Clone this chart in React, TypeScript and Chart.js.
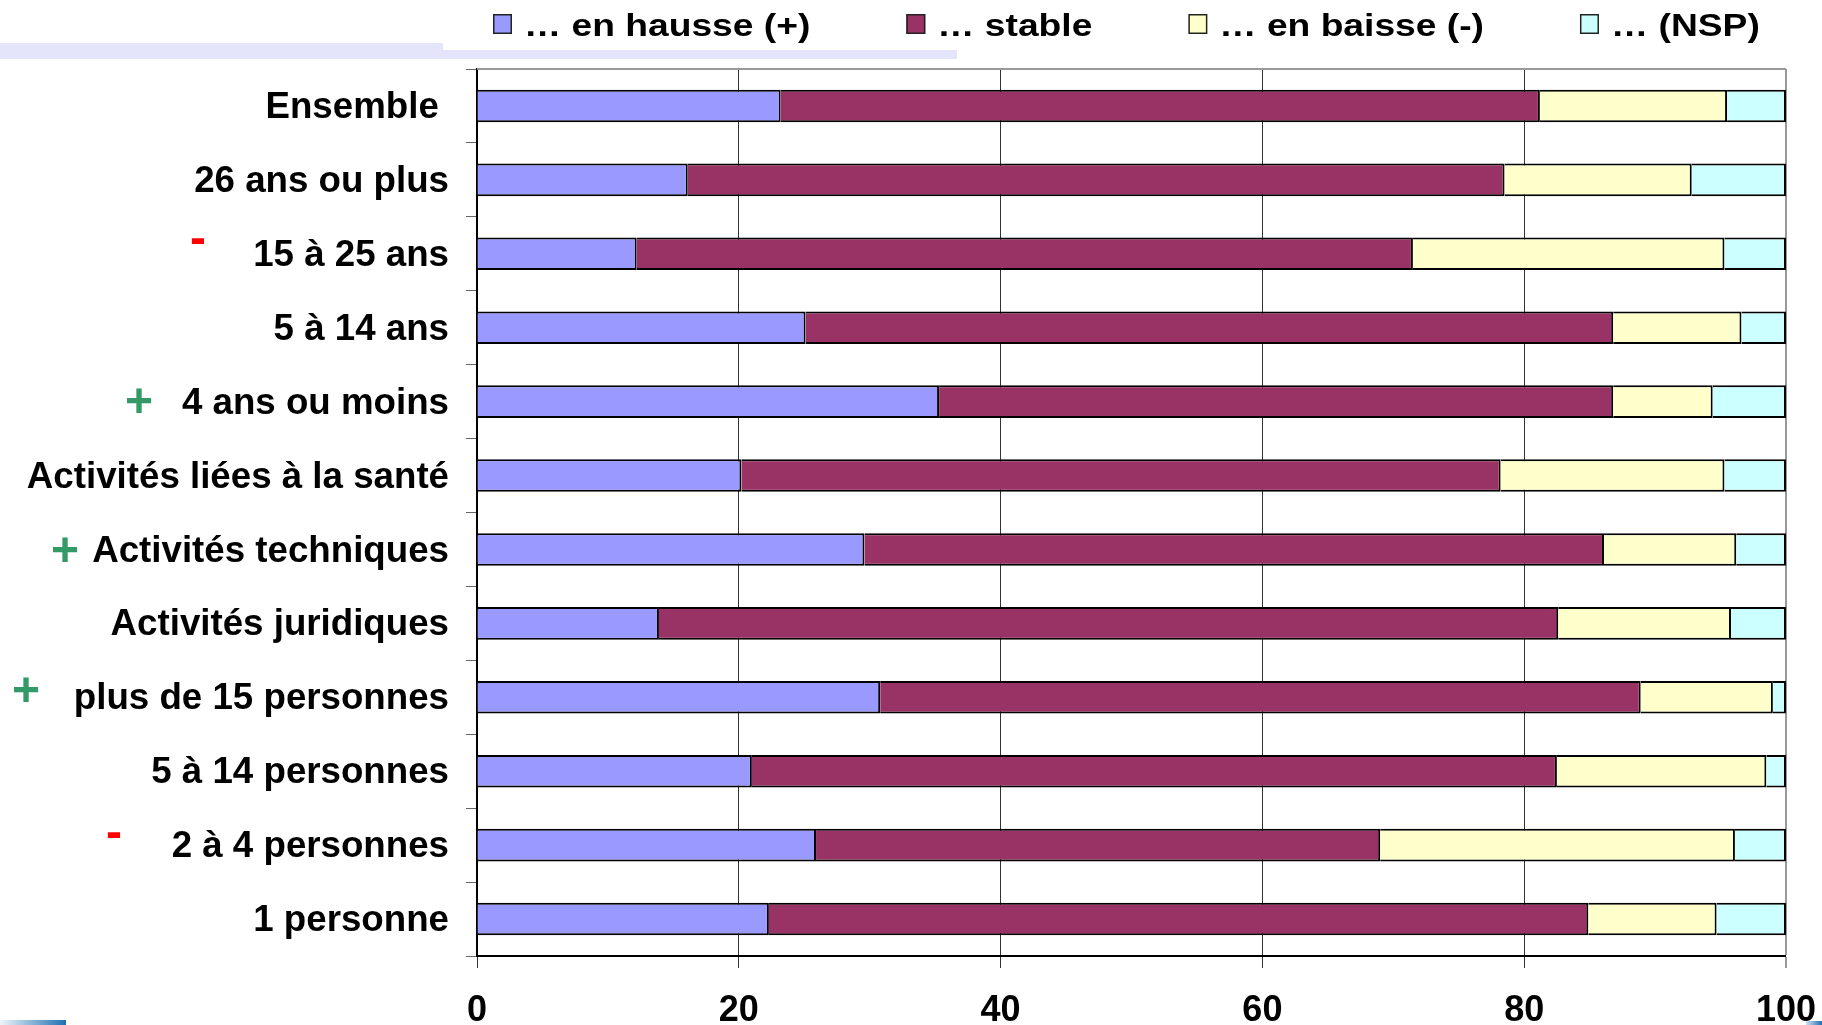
import { useEffect, useRef } from "react";
import { Chart, registerables } from "chart.js";

Chart.register(...registerables);

const FONT = '"Liberation Sans", Arial, Helvetica, sans-serif';

// ---------- data ----------
const categories = [
  "Ensemble ",
  "26 ans ou plus",
  "15 à 25 ans",
  "5 à 14 ans",
  "4 ans ou moins",
  "Activités liées à la santé",
  "Activités techniques",
  "Activités juridiques",
  "plus de 15 personnes",
  "5 à 14 personnes",
  "2 à 4 personnes",
  "1 personne",
];
const seriesNames = ["… en hausse (+)", "… stable", "… en baisse (-)", "… (NSP)"];
const enHausse = [23.2, 16.1, 12.2, 25.1, 35.3, 20.2, 29.6, 13.9, 30.8, 21.0, 25.9, 22.3];
const stable = [58.0, 62.4, 59.3, 61.7, 51.5, 58.0, 56.5, 68.7, 58.1, 61.5, 43.1, 62.6];
const enBaisse = [14.3, 14.3, 23.8, 9.8, 7.6, 17.1, 10.1, 13.2, 10.1, 16.0, 27.1, 9.8];
const nsp = [4.5, 7.2, 4.7, 3.4, 5.6, 4.7, 3.8, 4.2, 1.0, 1.5, 3.9, 5.3];
const markers = ["", "", "-", "", "+", "", "+", "", "+", "", "-", ""];
const xTicks = [0, 20, 40, 60, 80, 100];

// ---------- styles ----------
const seriesColors = ["#9999ff", "#993366", "#ffffcc", "#ccffff"];
// marker position: [center x, vertical offset from category center]
const markerPlacement: Record<number, [number, number]> = {
  2: [198, -12],
  4: [139, -2],
  6: [65, 0],
  8: [26, -8],
  10: [114, -9],
};

const legendPlugin = {
  id: "topLegend",
  afterDraw(chart: any) {
    const ctx = chart.ctx as CanvasRenderingContext2D;
    ctx.save();
    ctx.font = `bold 31px ${FONT}`;
    const sx = 1.2;
    let x = 493;
    chart.data.datasets.forEach((ds: any) => {
      ctx.fillStyle = ds.backgroundColor;
      ctx.fillRect(x, 14, 19, 20);
      ctx.strokeStyle = "#222";
      ctx.lineWidth = 1.5;
      ctx.strokeRect(x + 0.75, 14.75, 17.5, 18.5);
      const w = ctx.measureText(ds.label).width * sx;
      ctx.save();
      ctx.translate(x + 31, 36);
      ctx.scale(sx, 1);
      ctx.fillStyle = "#000";
      ctx.textBaseline = "alphabetic";
      ctx.textAlign = "left";
      ctx.fillText(ds.label, 0, 0);
      ctx.restore();
      x += 31 + w + 96;
    });
    ctx.restore();
  },
};

const framePlugin = {
  id: "frame",
  beforeDatasetsDraw(chart: any) {
    const { ctx, chartArea } = chart;
    ctx.save();
    ctx.strokeStyle = "#999";
    ctx.lineWidth = 2;
    ctx.beginPath();
    ctx.moveTo(chartArea.left, chartArea.top);
    ctx.lineTo(chartArea.right, chartArea.top);
    ctx.stroke();
    ctx.restore();
  },
};

const markerPlugin = {
  id: "markers",
  afterDraw(chart: any) {
    const ctx = chart.ctx as CanvasRenderingContext2D;
    const yScale = chart.scales.y;
    ctx.save();
    ctx.font = `bold 48px ${FONT}`;
    ctx.textAlign = "center";
    ctx.textBaseline = "alphabetic";
    markers.forEach((m, i) => {
      if (!m) return;
      const place = markerPlacement[i];
      if (!place) return;
      const cy = yScale.getPixelForValue(i) + place[1];
      if (m === "+") {
        ctx.fillStyle = "#339966";
        ctx.fillText("+", place[0], cy + 17);
      } else {
        ctx.fillStyle = "#ff0000";
        ctx.fillText("-", place[0], cy + 12);
      }
    });
    ctx.restore();
  },
};

export default function App() {
  const canvasRef = useRef<HTMLCanvasElement | null>(null);

  useEffect(() => {
    if (!canvasRef.current) return;
    const series = [enHausse, stable, enBaisse, nsp];
    const chart = new Chart(canvasRef.current, {
      type: "bar",
      data: {
        labels: categories,
        datasets: series.map((values, k) => ({
          label: seriesNames[k],
          data: values,
          backgroundColor: seriesColors[k],
          borderColor: "#000",
          borderWidth: 2,
          barPercentage: 0.44,
          categoryPercentage: 1,
        })),
      },
      options: {
        indexAxis: "y",
        animation: false,
        responsive: true,
        maintainAspectRatio: false,
        layout: { padding: { top: 69, right: 0, left: 0, bottom: 0 } },
        plugins: {
          legend: { display: false },
          tooltip: { enabled: false },
        },
        scales: {
          x: {
            stacked: true,
            min: xTicks[0],
            max: xTicks[xTicks.length - 1],
            afterFit(scale: any) {
              scale.height = 69;
            },
            ticks: {
              stepSize: xTicks[1] - xTicks[0],
              color: "#000",
              padding: 21,
              font: { family: FONT, size: 36, weight: "bold" },
            },
            grid: {
              color: (c: any) => (c.tick && c.tick.value === 100 ? "#999" : "#333"),
              lineWidth: (c: any) => (c.tick && c.tick.value === 100 ? 2 : 1),
              tickLength: 12,
              drawTicks: true,
            },
            border: { display: true, color: "#000", width: 2 },
          },
          y: {
            stacked: true,
            afterFit(scale: any) {
              scale.width = 477;
            },
            ticks: {
              color: "#000",
              padding: 17,
              labelOffset: 2,
              font: { family: FONT, size: 36.7, weight: "bold" },
            },
            grid: {
              display: true,
              drawOnChartArea: false,
              drawTicks: true,
              tickLength: 11,
              color: "#666",
              offset: true,
            },
            border: { display: true, color: "#000", width: 2 },
          },
        },
      },
      plugins: [legendPlugin, framePlugin, markerPlugin],
    } as any);
    return () => chart.destroy();
  }, []);

  return (
    <div
      style={{
        position: "fixed",
        left: 0,
        top: 0,
        width: 1822,
        height: 1025,
        background: "#fff",
        overflow: "hidden",
      }}
    >
      <div style={{ position: "absolute", left: 0, top: 43, width: 443, height: 16, background: "#e4e4fb" }} />
      <div style={{ position: "absolute", left: 443, top: 50, width: 514, height: 9, background: "#e4e4fb" }} />
      <div
        style={{
          position: "absolute",
          left: 0,
          top: 1020,
          width: 66,
          height: 5,
          background: "linear-gradient(90deg, #eef5fa, #1f6fb2)",
        }}
      />
      <div
        style={{
          position: "absolute",
          left: 1806,
          top: 1021,
          width: 16,
          height: 4,
          background: "linear-gradient(90deg, #cfe2f2, #1f6fb2)",
        }}
      />
      <div style={{ position: "absolute", left: 0, top: 0, width: 1837, height: 1025 }}>
        <canvas ref={canvasRef} />
      </div>
    </div>
  );
}
